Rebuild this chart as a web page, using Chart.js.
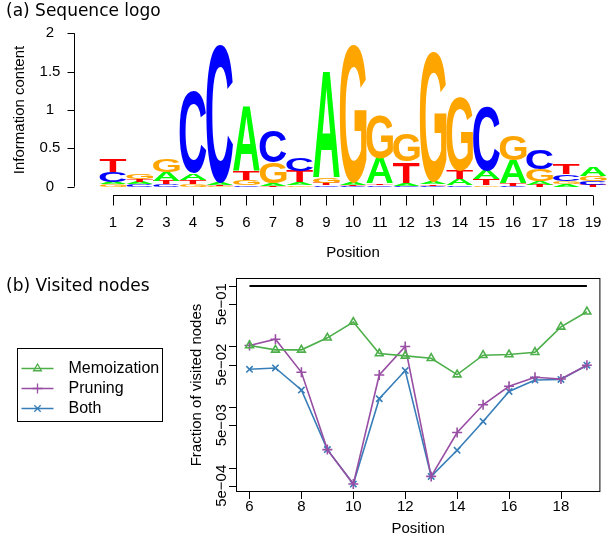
<!DOCTYPE html>
<html>
<head>
<meta charset="utf-8">
<script src="https://cdn.jsdelivr.net/npm/chart.js@4.4.0/dist/chart.umd.min.js"></script>
<style>
  body { margin: 0; background: #fff; width: 607px; height: 539px; position: relative; overflow: hidden; }
  canvas { position: absolute; left: 0; }
  #logo  { top: 0; }
  #nodes { top: 270px; }
  .ttl { position: absolute; left: 6px; font: 17px "DejaVu Sans"; color: #000; white-space: nowrap; }
</style>
</head>
<body>
<canvas id="logo" width="607" height="270"></canvas>
<canvas id="nodes" width="607" height="269"></canvas>
<div class="ttl" style="top:0px">(a) Sequence logo</div>
<div class="ttl" style="top:275px">(b) Visited nodes</div>
<script>
/* ── (a) sequence logo data ───────────────────── */
const positions = ['1','2','3','4','5','6','7','8','9','10','11','12','13','14','15','16','17','18','19'];
// letters at each position, from bottom to top of the stack
const stackLetters = ['GACT','CATG','CTAG','GTAC','GTAC','CGTA','TAGC','GATC','CTGA','CTAG',
                      'CTAG','CATG','CTAG','CATG','GTAC','CTAG','TAGC','AGCT','TCGA'];
// information content (bits) of each stack layer, bottom layer first
const layer1 = [0.030,0.030,0.030,0.035,0.010,0.020,0.015,0.020,0.020,0.010,0.020,0.015,0.010,0.020,0.020,0.015,0.025,0.030,0.025];
const layer2 = [0.035,0.030,0.050,0.050,0.015,0.070,0.035,0.035,0.030,0.015,0.020,0.035,0.020,0.080,0.075,0.025,0.050,0.040,0.050];
const layer3 = [0.130,0.035,0.110,0.090,0.025,0.120,0.270,0.150,0.070,0.030,0.330,0.275,0.035,0.110,0.110,0.300,0.150,0.090,0.070];
const layer4 = [0.160,0.075,0.165,1.065,1.800,0.840,0.410,0.175,1.385,1.800,0.565,0.350,1.700,0.960,0.845,0.330,0.260,0.140,0.110];
const logoYTicks  = [0, 0.5, 1, 1.5, 2];
const logoYLabels = ['0', '0.5', '1', '1.5', '2'];

/* ── (b) visited nodes data ───────────────────── */
const nodePos     = [6, 7, 8, 9, 10, 11, 12, 13, 14, 15, 16, 17, 18, 19];
const memoization = [0.104, 0.088, 0.088, 0.139, 0.253, 0.0765, 0.070, 0.064, 0.0343, 0.0718, 0.0736, 0.0805, 0.211, 0.375];
const pruning     = [0.104, 0.132, 0.0375, 0.00198, 0.000534, 0.0338, 0.100, 0.000715, 0.00379, 0.0109, 0.0220, 0.0310, 0.0290, 0.049];
const both        = [0.042, 0.0442, 0.0191, 0.00198, 0.000534, 0.0137, 0.040, 0.000715, 0.00193, 0.00577, 0.0181, 0.0279, 0.0285, 0.049];
const refX = [6, 19];
const refY = [1, 1];
const nodeXTicks  = [6, 8, 10, 12, 14, 16, 18];
const nodeYTicks  = [5e-4, 1e-3, 5e-3, 1e-2, 5e-2, 1e-1, 5e-1, 1];
const nodeYLabels = ['5e\u221204', '', '5e\u221203', '', '5e\u221202', '', '5e\u221201', ''];

const FONT = '"Liberation Sans", Arial, sans-serif';
const letterColors = { A: '#00ff00', C: '#0000ff', G: '#ffa500', T: '#ff0000' };
const LETTER_FONT = 'bold 200px ' + FONT;

/* glyph bounds so each letter can be stretched to fill its box */
const glyphBox = {};
function measureGlyphs(ctx) {
  ctx.save();
  ctx.font = LETTER_FONT;
  for (const L of 'ACGT') {
    const m = ctx.measureText(L);
    glyphBox[L] = { l: m.actualBoundingBoxLeft, r: m.actualBoundingBoxRight,
                    a: m.actualBoundingBoxAscent, d: m.actualBoundingBoxDescent };
  }
  ctx.restore();
}

const logoPlugin = {
  id: 'logoPlugin',
  afterDatasetsDraw(chart) {
    const ctx = chart.ctx;
    if (!glyphBox.A) measureGlyphs(ctx);
    chart.data.datasets.forEach((ds, k) => {
      chart.getDatasetMeta(k).data.forEach((bar, i) => {
        const L = stackLetters[i][k];
        const top = Math.min(bar.y, bar.base);
        const h = Math.abs(bar.base - bar.y);
        const w = bar.width;
        if (h <= 0) return;
        const g = glyphBox[L];
        ctx.save();
        ctx.translate(bar.x - w / 2, top);
        ctx.scale(w / (g.l + g.r), h / (g.a + g.d));
        ctx.font = LETTER_FONT;
        ctx.textAlign = 'left';
        ctx.textBaseline = 'alphabetic';
        ctx.fillStyle = letterColors[L];
        ctx.fillText(L, g.l, g.a);
        ctx.restore();
      });
    });
  },
  afterDraw(chart) {
    const { ctx, scales: { x, y } } = chart;
    ctx.save();
    ctx.strokeStyle = '#000';
    ctx.fillStyle = '#000';
    ctx.lineWidth = 1;
    // y axis, set off to the left of the letters
    const ax = 74.5;
    ctx.beginPath();
    ctx.moveTo(ax, y.getPixelForValue(0));
    ctx.lineTo(ax, y.getPixelForValue(2));
    logoYTicks.forEach(v => {
      const py = Math.round(y.getPixelForValue(v)) + 0.5;
      ctx.moveTo(ax, py); ctx.lineTo(ax - 7, py);
    });
    ctx.stroke();
    ctx.font = '15px ' + FONT;
    ctx.textAlign = 'center';
    ctx.textBaseline = 'middle';
    logoYTicks.forEach((v, i) => ctx.fillText(logoYLabels[i], 50, y.getPixelForValue(v)));
    ctx.save();
    ctx.translate(20, (y.getPixelForValue(0) + y.getPixelForValue(2)) / 2);
    ctx.rotate(-Math.PI / 2);
    ctx.fillText('Information content', 0, 0);
    ctx.restore();
    // x axis below the letters
    const ay = 195.5;
    ctx.beginPath();
    ctx.moveTo(x.getPixelForValue(0), ay);
    ctx.lineTo(x.getPixelForValue(positions.length - 1), ay);
    positions.forEach((p, i) => {
      const px = Math.round(x.getPixelForValue(i)) + 0.5;
      ctx.moveTo(px, ay); ctx.lineTo(px, ay + 10);
    });
    ctx.stroke();
    positions.forEach((p, i) => ctx.fillText(p, x.getPixelForValue(i), 223));
    ctx.fillText('Position', (x.getPixelForValue(0) + x.getPixelForValue(positions.length - 1)) / 2, 253);
    ctx.restore();
  }
};

new Chart(document.getElementById('logo'), {
  type: 'bar',
  data: {
    labels: positions,
    datasets: [layer1, layer2, layer3, layer4].map((d, k) => ({
      label: 'layer' + (k + 1), data: d,
      backgroundColor: 'rgba(0,0,0,0)', borderWidth: 0,
      barPercentage: 1, categoryPercentage: 1
    }))
  },
  options: {
    responsive: false, animation: false,
    layout: { padding: { left: 99.7, right: 0.6, top: 33.3, bottom: 83.3 } },
    scales: {
      x: { display: false, stacked: true },
      y: { display: false, stacked: true, min: 0, max: 2 }
    },
    plugins: { legend: { display: false }, tooltip: { enabled: false } }
  },
  plugins: [logoPlugin]
});

/* ── (b) line chart with R-style box, axes and legend ── */
const nodesPlugin = {
  id: 'nodesPlugin',
  afterDraw(chart) {
    const { ctx, chartArea: a, scales: { x, y } } = chart;
    ctx.save();
    ctx.strokeStyle = '#000';
    ctx.fillStyle = '#000';
    ctx.lineWidth = 1;
    ctx.strokeRect(a.left + 0.5, a.top + 0.5, a.right - a.left - 1, a.bottom - a.top - 1);
    ctx.beginPath();
    nodeXTicks.forEach(v => {
      const px = Math.round(x.getPixelForValue(v)) + 0.5;
      ctx.moveTo(px, a.bottom); ctx.lineTo(px, a.bottom + 7);
    });
    nodeYTicks.forEach(v => {
      const py = Math.round(y.getPixelForValue(v)) + 0.5;
      ctx.moveTo(a.left, py); ctx.lineTo(a.left - 7, py);
    });
    ctx.stroke();
    ctx.font = '15px ' + FONT;
    ctx.textAlign = 'center';
    ctx.textBaseline = 'middle';
    nodeXTicks.forEach(v => ctx.fillText(String(v), x.getPixelForValue(v), a.bottom + 15));
    ctx.fillText('Position', (a.left + a.right) / 2, a.bottom + 37);
    nodeYTicks.forEach((v, i) => {
      if (!nodeYLabels[i]) return;
      ctx.save();
      ctx.translate(a.left - 14, y.getPixelForValue(v));
      ctx.rotate(-Math.PI / 2);
      ctx.fillText(nodeYLabels[i], 0, 0);
      ctx.restore();
    });
    ctx.save();
    ctx.translate(197, (a.top + a.bottom) / 2);
    ctx.rotate(-Math.PI / 2);
    ctx.fillText('Fraction of visited nodes', 0, 0);
    ctx.restore();

    // legend box on the left
    const lx = 17.5, ly = 78.5, lw = 145, lh = 73;
    ctx.strokeRect(lx, ly, lw, lh);
    ctx.font = '16px ' + FONT;
    ctx.textAlign = 'left';
    chart.data.datasets.slice(0, 3).forEach((ds, i) => {
      const ry = ly + 20 + i * 20;
      ctx.strokeStyle = ds.borderColor;
      ctx.fillStyle = 'rgba(0,0,0,0)';
      ctx.lineWidth = 1.3;
      ctx.beginPath();
      ctx.moveTo(lx + 4, ry); ctx.lineTo(lx + 36, ry);
      ctx.stroke();
      Chart.helpers.drawPoint(ctx, { pointStyle: ds.pointStyle, radius: ds.pointRadius, borderWidth: 1.3 }, lx + 20, ry);
      ctx.fillStyle = '#000';
      ctx.fillText(ds.label, lx + 51, ry);
    });
    ctx.restore();
  }
};

const toXY = vals => nodePos.map((p, i) => ({ x: p, y: vals[i] }));

new Chart(document.getElementById('nodes'), {
  type: 'line',
  data: {
    datasets: [
      { label: 'Memoization', data: toXY(memoization), borderColor: '#4daf4a', backgroundColor: 'rgba(0,0,0,0)',
        pointStyle: 'triangle', pointRadius: 4.5, pointBorderWidth: 1.6, borderWidth: 1.6 },
      { label: 'Pruning', data: toXY(pruning), borderColor: '#984ea3', backgroundColor: 'rgba(0,0,0,0)',
        pointStyle: 'cross', pointRadius: 5, pointBorderWidth: 1.6, borderWidth: 1.6 },
      { label: 'Both', data: toXY(both), borderColor: '#377eb8', backgroundColor: 'rgba(0,0,0,0)',
        pointStyle: 'crossRot', pointRadius: 4.5, pointBorderWidth: 1.6, borderWidth: 1.6 },
      { label: 'all', data: refX.map((v, i) => ({ x: v, y: refY[i] })), borderColor: '#000',
        pointRadius: 0, borderWidth: 2 }
    ]
  },
  options: {
    responsive: false, animation: false,
    layout: { padding: { left: 236, right: 2, top: 8, bottom: 47 } },
    scales: {
      x: { type: 'linear', display: false, min: 5.48, max: 19.52 },
      y: { type: 'logarithmic', display: false, min: 3.95e-4, max: 1.352 }
    },
    plugins: { legend: { display: false }, tooltip: { enabled: false } }
  },
  plugins: [nodesPlugin]
});
</script>
</body>
</html>
